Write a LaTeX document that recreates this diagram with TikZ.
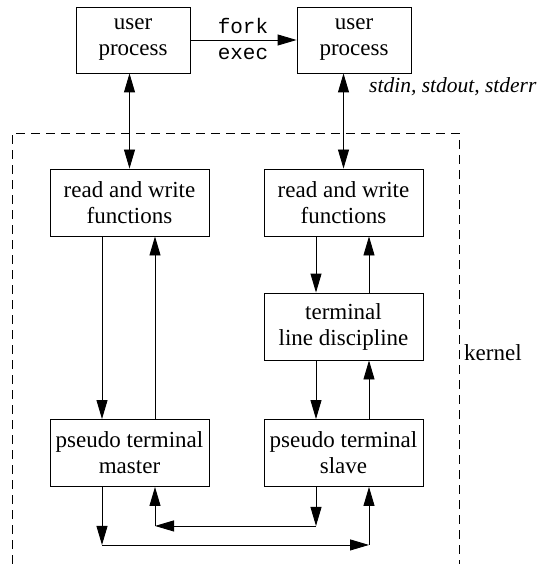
\documentclass[tikz,border=0pt]{standalone}
\usepackage{fontspec}
\setmainfont{Liberation Serif}
\setmonofont{Liberation Mono}
\usetikzlibrary{arrows.meta,calc}
\begin{document}
\begin{tikzpicture}[x=1pt,y=-1pt,
  every node/.style={font=\fontsize{23}{26}\selectfont},
  box/.style={draw,line width=0.9pt,align=center,inner sep=0pt,minimum width=159pt,minimum height=67pt},
  ubox/.style={draw,line width=0.9pt,align=center,inner sep=0pt,minimum width=114pt,minimum height=66pt},
  conn/.style={line width=0.9pt,-{Triangle[length=19pt,width=11pt]}},
  dconn/.style={line width=0.9pt,{Triangle[length=19pt,width=11pt]}-{Triangle[length=19pt,width=11pt]}},
  seg/.style={line width=0.9pt}]
\useasboundingbox (0,0) rectangle (539,564);
% kernel boundary
\draw[line width=0.9pt,dash pattern=on 9pt off 6pt] (12,564) -- (12,133) -- (459,133) -- (459,564);
% nodes
\node[ubox] (uL) at (133,40) {user\\process};
\node[ubox] (uR) at (354,40) {user\\process};
\node[box] (rwL) at (129.5,202.5) {read and write\\functions};
\node[box] (rwR) at (343.5,202.5) {read and write\\functions};
\node[box] (tld) at (343.5,326.5) {terminal\\line discipline};
\node[box] (ptm) at (129.5,453) {pseudo terminal\\master};
\node[box] (pts) at (343.5,453) {pseudo terminal\\slave};
\node[font=\fontsize{21}{26}\ttfamily] (fork) at (243,26) {fork};
\node[font=\fontsize{21}{26}\ttfamily] (exec) at (243,54) {exec};
\node[font=\fontsize{21.5}{26}\itshape,anchor=west,inner sep=0pt] (std) at (369,87) {stdin, stdout, stderr};
\node[anchor=west,inner sep=0pt] (kern) at (464,353) {kernel};
% top connectors
\draw[conn] (uL.east) -- (uR.west);
\draw[dconn] (rwL.north) -- (rwL.north |- uL.south);
\draw[dconn] (rwR.north) -- (rwR.north |- uR.south);
% left column
\draw[conn] ([xshift=-27.5pt]rwL.south) -- ([xshift=-27.5pt]ptm.north);
\draw[conn] ([xshift=25.5pt]ptm.north) -- ([xshift=25.5pt]rwL.south);
% right column
\draw[conn] ([xshift=-27.5pt]rwR.south) -- ([xshift=-27.5pt]tld.north);
\draw[conn] ([xshift=25.5pt]tld.north) -- ([xshift=25.5pt]rwR.south);
\draw[conn] ([xshift=-27.5pt]tld.south) -- ([xshift=-27.5pt]pts.north);
\draw[conn] ([xshift=25.5pt]pts.north) -- ([xshift=25.5pt]tld.south);
% bottom loops
\coordinate (a1) at ($(ptm.south)+(-27.5,58)$);
\coordinate (a2) at ($(pts.south)+(25.5,58)$);
\coordinate (b1) at ($(pts.south)+(-27.5,39)$);
\coordinate (b2) at ($(ptm.south)+(25.5,39)$);
\draw[conn] ([xshift=-27.5pt]ptm.south) -- (a1);
\draw[conn] (a1) -- (a2);
\draw[conn] (a2) -- ([xshift=25.5pt]pts.south);
\draw[conn] ([xshift=-27.5pt]pts.south) -- (b1);
\draw[conn] (b1) -- (b2);
\draw[conn] (b2) -- ([xshift=25.5pt]ptm.south);
\end{tikzpicture}
\end{document}
